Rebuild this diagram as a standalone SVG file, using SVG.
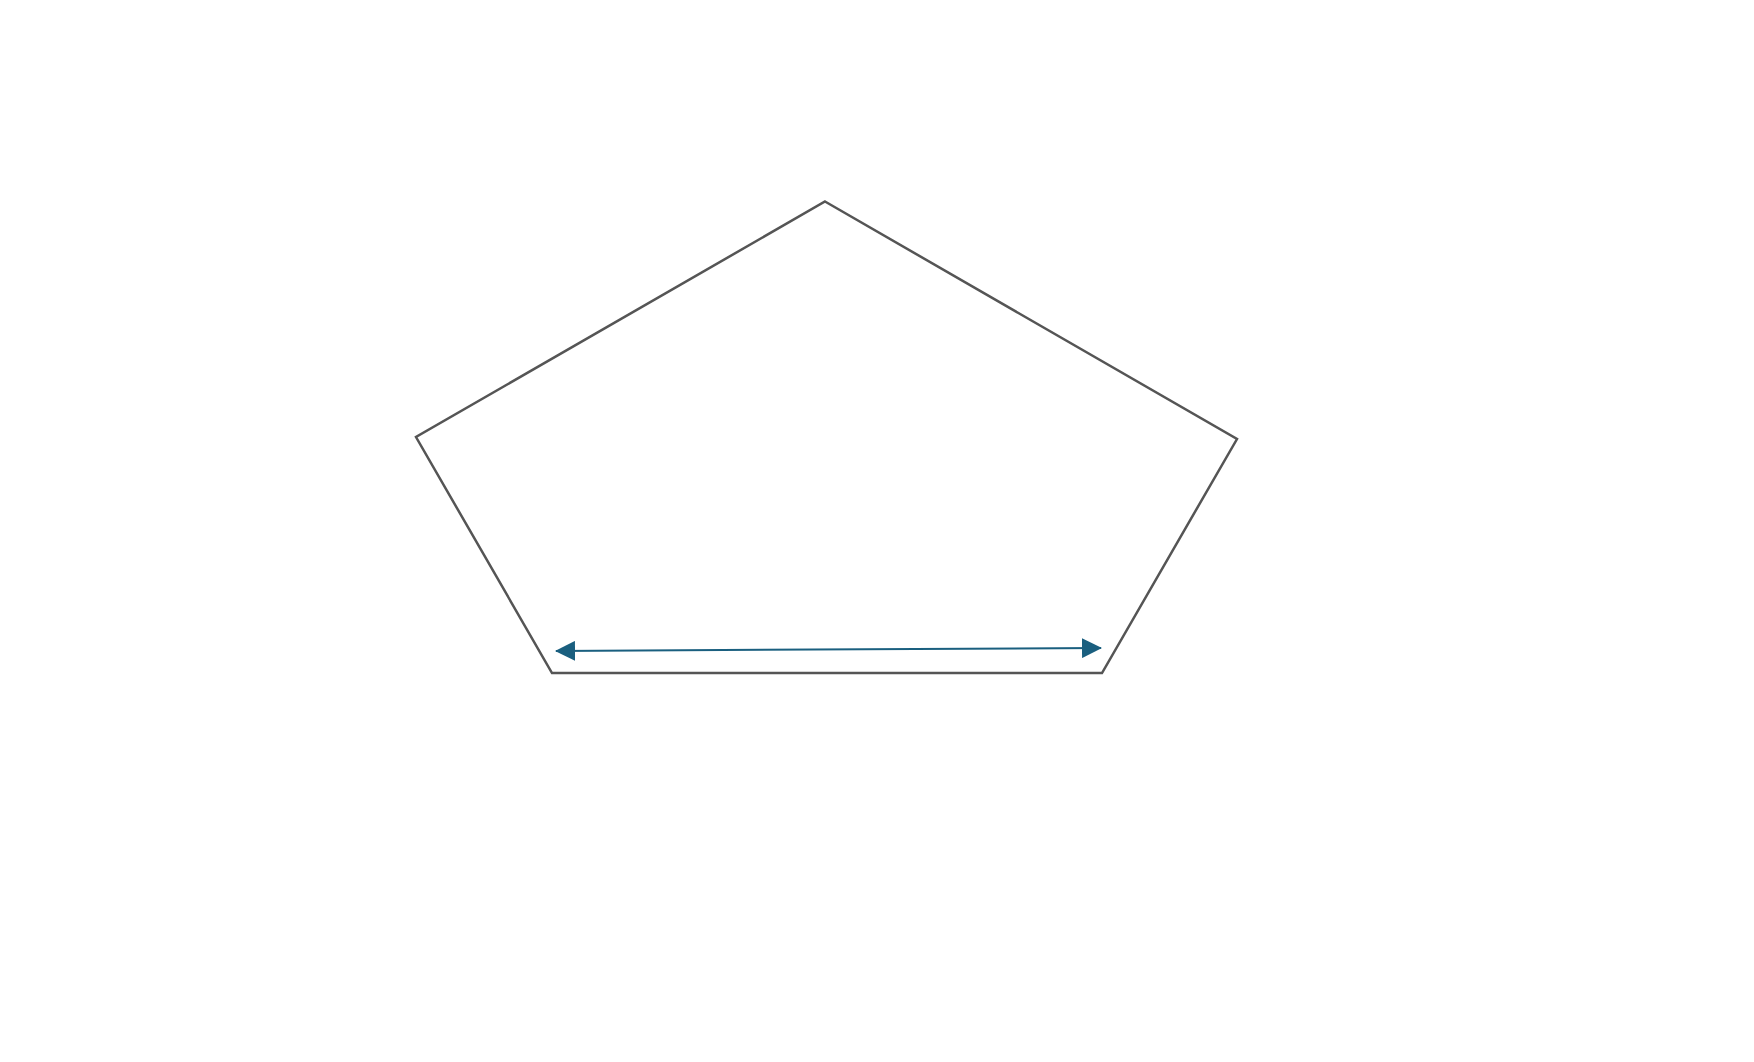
<svg xmlns="http://www.w3.org/2000/svg" width="1754" height="1062" viewBox="0 0 1754 1062">
<style>
.shape{fill:none;stroke:#555555;stroke-width:2.5;stroke-linejoin:miter}
.conn{fill:none;stroke:#1a5f7f;stroke-width:2}
</style>
<defs>
<marker id="ah" markerUnits="userSpaceOnUse" markerWidth="20" markerHeight="20" viewBox="0 0 20 20" refX="19" refY="10" orient="auto-start-reverse">
<path d="M0,0 L20,10 L0,20 Z" fill="#1a5f7f"/>
</marker>
</defs>
<rect width="1754" height="1062" fill="#ffffff"/>
<g id="pentagon">
<polygon class="shape" points="825,201.5 1237,439 1102,673 552,673 416,437"/>
</g>
<g id="connectors">
<line class="conn" x1="556" y1="651" x2="1101" y2="648" marker-start="url(#ah)" marker-end="url(#ah)"/>
</g>
</svg>
